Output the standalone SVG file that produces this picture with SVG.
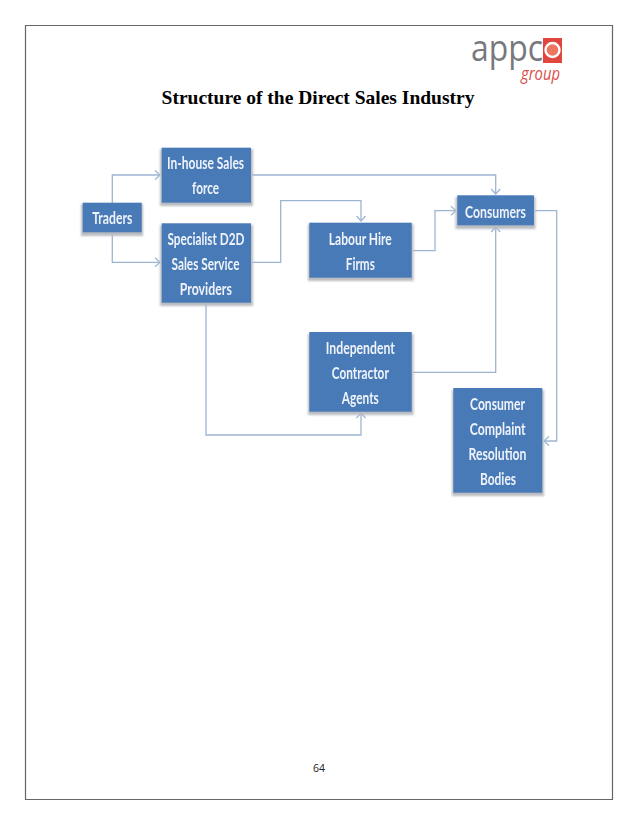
<svg xmlns="http://www.w3.org/2000/svg" width="638" height="826" viewBox="0 0 638 826">
<style>
.box{fill:#4a7ab8}
.sh{fill:#b9bcc0}
.hl{fill:#dfe8f3}
.t{font-family:"Lato","Liberation Sans",sans-serif;font-weight:700;font-size:17px;fill:#eef3f9;text-anchor:middle}
.c{fill:none;stroke:#9db4d3;stroke-width:1.3;marker-end:url(#a)}
</style>
<defs>
<marker id="a" markerUnits="userSpaceOnUse" markerWidth="10" markerHeight="12" refX="7" refY="6" orient="auto"><path d="M2 1.5L7 6L2 10.5" fill="none" stroke="#9db4d3" stroke-width="1.2"/></marker>
<filter id="s" x="-10%" y="-10%" width="120%" height="120%"><feGaussianBlur stdDeviation="0.35"/></filter>
<filter id="b" x="-10%" y="-20%" width="120%" height="140%"><feGaussianBlur stdDeviation="0.8"/></filter>
</defs>
<rect width="638" height="826" fill="#fff"/>
<path d="M25.5 25.5H612.5V799.5H25.5Z" fill="none" stroke="#666" stroke-width="1.2"/>
<g id="logo">
<text x="471" y="61" font-family="'Open Sans','Liberation Sans',sans-serif" font-size="36" fill="#77797c" textLength="72" lengthAdjust="spacingAndGlyphs">appc</text>
<rect x="543" y="38" width="19" height="25" fill="#e0463e"/>
<circle cx="552.5" cy="50" r="7" fill="#ee7560" stroke="#fff" stroke-width="2.4"/>
<text x="521" y="80" font-family="'Open Sans','Liberation Sans',sans-serif" font-size="19" font-style="italic" fill="#d9504a" textLength="39" lengthAdjust="spacingAndGlyphs">group</text>
</g>
<text id="title" x="318" y="104" font-family="'Liberation Serif',serif" font-weight="700" font-size="19.5" fill="#000" text-anchor="middle">Structure of the Direct Sales Industry</text>
<g id="connectors">
<path class="c" d="M112.3 203V175H160"/>
<path class="c" d="M112.3 233V262.3H160"/>
<path class="c" d="M252 175H495.7V194"/>
<path class="c" d="M252 262.3H280.7V200.7H361V221"/>
<path class="c" d="M413 250.7H435V210.7H456"/>
<path class="c" d="M413 372.3H495.7V227"/>
<path class="c" d="M535 210.7H556.7V441H544"/>
<path class="c" d="M206 304V435H361V413"/>
</g>
<g id="traders" filter="url(#s)">
<rect class="sh" x="81" y="204" width="62" height="32" filter="url(#b)"/>
<rect class="box" x="82.7" y="202.7" width="59" height="29.6"/>
<text class="t" x="112.3" y="224.3" textLength="40" lengthAdjust="spacingAndGlyphs">Traders</text>
</g>
<g id="inhouse" filter="url(#s)">
<rect class="sh" x="160" y="149" width="93" height="57" filter="url(#b)"/>
<rect class="box" x="161.7" y="147.7" width="89.3" height="55"/>
<text class="t" x="205.6" y="169.3" textLength="77" lengthAdjust="spacingAndGlyphs">In-house Sales</text>
<text class="t" x="205.6" y="194.3" textLength="27" lengthAdjust="spacingAndGlyphs">force</text>
</g>
<g id="specialist" filter="url(#s)">
<rect class="sh" x="160" y="225" width="93" height="81" filter="url(#b)"/>
<rect class="box" x="161.7" y="223.3" width="89.3" height="79.4"/>
<text class="t" x="206" y="245" textLength="77" lengthAdjust="spacingAndGlyphs">Specialist D2D</text>
<text class="t" x="205.5" y="270" textLength="68" lengthAdjust="spacingAndGlyphs">Sales Service</text>
<text class="t" x="205.8" y="294.5" textLength="52" lengthAdjust="spacingAndGlyphs">Providers</text>
</g>
<g id="labour" filter="url(#s)">
<rect class="sh" x="308" y="224" width="105.500" height="57" filter="url(#b)"/>
<rect class="box" x="309.300" y="222.700" width="102.400" height="55"/>
<text class="t" x="360.300" y="245" textLength="63" lengthAdjust="spacingAndGlyphs">Labour Hire</text>
<text class="t" x="360.300" y="270" textLength="29" lengthAdjust="spacingAndGlyphs">Firms</text>
</g>
<g id="consumers" filter="url(#s)">
<rect class="sh" x="455.500" y="197" width="80" height="32" filter="url(#b)"/>
<rect class="box" x="457.300" y="195.300" width="76.700" height="30"/>
<text class="t" x="495.500" y="217.700" textLength="61" lengthAdjust="spacingAndGlyphs">Consumers</text>
</g>
<g id="independent" filter="url(#s)">
<rect class="sh" x="308" y="334" width="105.500" height="81" filter="url(#b)"/>
<rect class="box" x="309.300" y="332" width="102.400" height="79.700"/>
<text class="t" x="360.300" y="354.300" textLength="69" lengthAdjust="spacingAndGlyphs">Independent</text>
<text class="t" x="360.300" y="379.300" textLength="57" lengthAdjust="spacingAndGlyphs">Contractor</text>
<text class="t" x="360.300" y="403.500" textLength="37" lengthAdjust="spacingAndGlyphs">Agents</text>
</g>
<g id="complaint" filter="url(#s)">
<rect class="sh" x="452" y="390" width="92" height="106" filter="url(#b)"/>
<rect class="box" x="453.300" y="388" width="89" height="104.700"/>
<text class="t" x="497.500" y="410" textLength="55" lengthAdjust="spacingAndGlyphs">Consumer</text>
<text class="t" x="497.700" y="435" textLength="56" lengthAdjust="spacingAndGlyphs">Complaint</text>
<text class="t" x="497.500" y="460" textLength="58" lengthAdjust="spacingAndGlyphs">Resolution</text>
<text class="t" x="498" y="485" textLength="36" lengthAdjust="spacingAndGlyphs">Bodies</text>
</g>
<text id="page" x="319" y="772" font-family="'Open Sans','Liberation Sans',sans-serif" font-size="10.500" fill="#222" text-anchor="middle">64</text>
</svg>
